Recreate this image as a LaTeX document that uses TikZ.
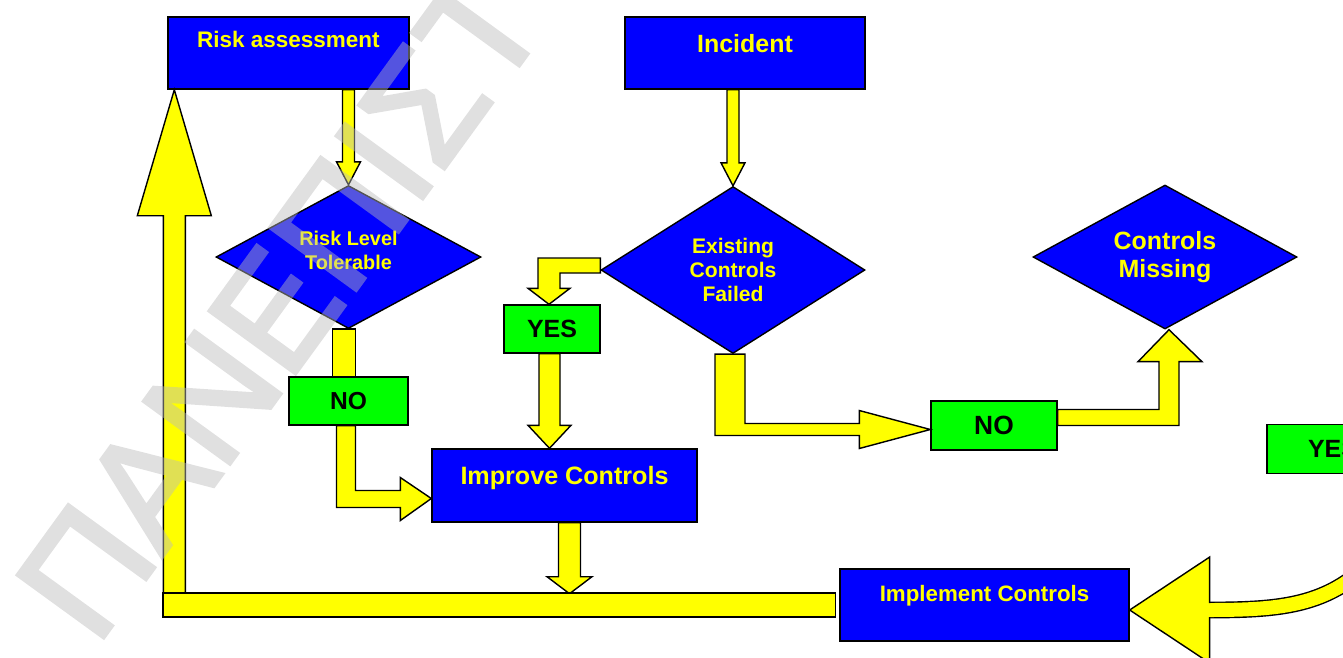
\documentclass[tikz,border=0pt]{standalone}
\usepackage{fontspec}
\setmainfont{Liberation Sans}
\newfontfamily\wmfont[FakeBold=2.5]{Liberation Sans}
\usetikzlibrary{calc,shapes.geometric}
\definecolor{fcblue}{RGB}{0,0,255}
\definecolor{fcyellow}{RGB}{255,255,0}
\definecolor{fcgreen}{RGB}{0,255,0}
\definecolor{wmgray}{RGB}{187,187,187}
\tikzset{
  bbox/.style={draw=black, fill=fcblue, text=fcyellow, line width=0.8pt, inner sep=0pt},
  gbox/.style={draw=black, fill=fcgreen, text=black, line width=0.8pt, inner sep=0pt},
  dbox/.style={diamond, draw=black, fill=fcblue, text=fcyellow, line width=0.8pt, inner sep=0pt, align=center},
  blk/.style={draw=black, fill=fcyellow, line width=0.8pt, line join=miter},
  wmark/.style={text=wmgray, inner sep=0pt, font=\wmfont\fontsize{88}{88}\selectfont}
}
\def\vblk(#1)(#2)(#3:#4:#5){\draw[blk] ($(#1 -| #2)+(-#3,0)$) -- ($(#2)+(-#3,#5)$) -- ($(#2)+(-#4,#5)$) -- (#2) -- ($(#2)+(#4,#5)$) -- ($(#2)+(#3,#5)$) -- ($(#1 -| #2)+(#3,0)$) -- cycle;}

\begin{document}
\begin{tikzpicture}[x=0.02cm, y=-0.02cm]
			%%%%% START %%%%%
			\useasboundingbox (0,0) rectangle (1343,657);
			\clip (0,0) rectangle (1343,657);
			
			\node[bbox, minimum width=4.82cm, minimum height=1.44cm, text height=9.1pt, text depth=14.8pt, font=\fontsize{12.8}{15}\selectfont\bfseries] (ra) at (288.5,53) {Risk assessment};
			\node[bbox, minimum width=4.8cm, minimum height=1.44cm, text height=10.2pt, text depth=11.3pt, font=\fontsize{14.2}{17}\selectfont\bfseries] (inc) at (745,53) {Incident};
			
			\node[dbox, minimum width=5.3cm, minimum height=2.86cm, aspect=1.85, text depth=8pt, font=\fontsize{11.3}{13.6}\selectfont\bfseries] (rlt) at (348.5,257) {Risk Level\\Tolerable};
			\node[dbox, minimum width=5.28cm, minimum height=3.34cm, aspect=1.58, font=\fontsize{12}{13.6}\selectfont\bfseries] (ecf) at (733,270) {Existing\\Controls\\Failed};
			\node[dbox, minimum width=5.28cm, minimum height=2.88cm, aspect=1.83, font=\fontsize{14.2}{15.9}\selectfont\bfseries] (cm) at (1165,257) {Controls\\Missing};
			
			\node[gbox, minimum width=2.38cm, minimum height=0.96cm, font=\fontsize{14}{17}\selectfont\bfseries] (no1) at (348.5,401) {NO};
			\node[gbox, minimum width=1.92cm, minimum height=0.96cm, font=\fontsize{14.2}{17}\selectfont\bfseries] (yes1) at (552,329) {YES};
			\node[gbox, minimum width=2.52cm, minimum height=0.98cm, font=\fontsize{15}{18}\selectfont\bfseries] (no2) at (994,425.5) {NO};
			\node[gbox, minimum width=2.64cm, minimum height=0.98cm, font=\fontsize{14.2}{17}\selectfont\bfseries] (yes2) at (1333,449) {YES};
			
			\node[bbox, minimum width=5.3cm, minimum height=1.46cm, text height=10.2pt, text depth=11.9pt, font=\fontsize{14.3}{17}\selectfont\bfseries] (imp) at (564.5,485.5) {Improve Controls};
			\node[bbox, minimum width=5.78cm, minimum height=1.44cm, text height=9.1pt, text depth=13.6pt, font=\fontsize{12.7}{15}\selectfont\bfseries] (imc) at (984.5,605) {Implement Controls};
			
			\coordinate (t4) at ($(imp.west)+(0,13)$);
			\coordinate (t5) at ($(yes1.north)+(-3,0)$);
			\coordinate (t6) at ($(imp.north)+(-15,0)$);
			\coordinate (t7) at ($(no2.west)+(0,4)$);
			\coordinate (t8) at ($(cm.south)+(4,0)$);
			\coordinate (t9) at ($(imp.south)+(5,71)$);
			\coordinate (t10) at ($(ra.south west)+(7,0)$);
			\coordinate (t11) at ($(imc.east)+(0,5)$);
			\coordinate (corner) at (163,617);
			\coordinate (yesout) at (1390,540);
			
			\vblk(ra.south)(rlt.north)(6:12:-23)
			\vblk(inc.south)(ecf.north)(6:12:-23)
			\draw[blk] ($(rlt.south)+(-16,0)$) rectangle ($(no1.north)+(7,0)$);
			\draw[blk] ($(no1.south)+(-12,0)$) |- ($(t4)+(-31,9)$) -- ($(t4)+(-31,22)$) -- (t4) -- ($(t4)+(-31,-21)$) -- ($(t4)+(-31,-8)$) -| ($(no1.south)+(7,0)$) -- cycle;
			\draw[blk] ($(ecf.west)+(0,-12)$) -| ($(t5)+(-11,-16)$) -- ($(t5)+(-21,-16)$) -- (t5) -- ($(t5)+(21,-16)$) -- ($(t5)+(11,-16)$) |- ($(ecf.west)+(0,3)$) -- cycle;
			\vblk(yes1.south)(t6)(10.5:21.5:-23)
			\draw[blk] ($(ecf.south)+(-18,0)$) |- ($(t7)+(-71,6)$) -- ($(t7)+(-71,19)$) -- (t7) -- ($(t7)+(-71,-19)$) -- ($(t7)+(-71,-6)$) -| ($(ecf.south)+(12,0)$) -- cycle;
			\draw[blk] ($(no2.east)+(0,-16)$) -| ($(t8)+(-10,32)$) -- ($(t8)+(-31,32)$) -- (t8) -- ($(t8)+(33,32)$) -- ($(t8)+(10,32)$) |- (no2.east) -- cycle;
			\vblk(imp.south)(t9)(11:22.5:-17)
			
			\vblk(corner)(t10)(11:37:126)
			\draw[blk] ($(imc.west)+(-4,-12)$) rectangle (corner);
			
			\draw[line width=0.28cm+1.6pt] ($(t11)+(78,0)$) .. controls ($(t11)+(161,0)$) and ($(yesout)+(-50,65)$) .. (yesout);
			\draw[line width=0.28cm, fcyellow] ($(t11)+(78,0)$) .. controls ($(t11)+(161,0)$) and ($(yesout)+(-50,65)$) .. (yesout);
			\fill[fcyellow] ($(t11)+(80,-53)$) -- (t11) -- ($(t11)+(80,53)$) -- cycle;
			\draw[line width=0.8pt, line join=miter] ($(t11)+(80,-7)$) -- ($(t11)+(80,-53)$) -- (t11) -- ($(t11)+(80,53)$) -- ($(t11)+(80,7)$);
			
			\begin{scope}[transparency group, opacity=0.45]
			\node[wmark, rotate=54, anchor=base west] (wm) at (96,648) {ΠΑΝΕΠΙΣΤ};
			\end{scope}
			%%%%% END %%%%%
\end{tikzpicture}
\end{document}
